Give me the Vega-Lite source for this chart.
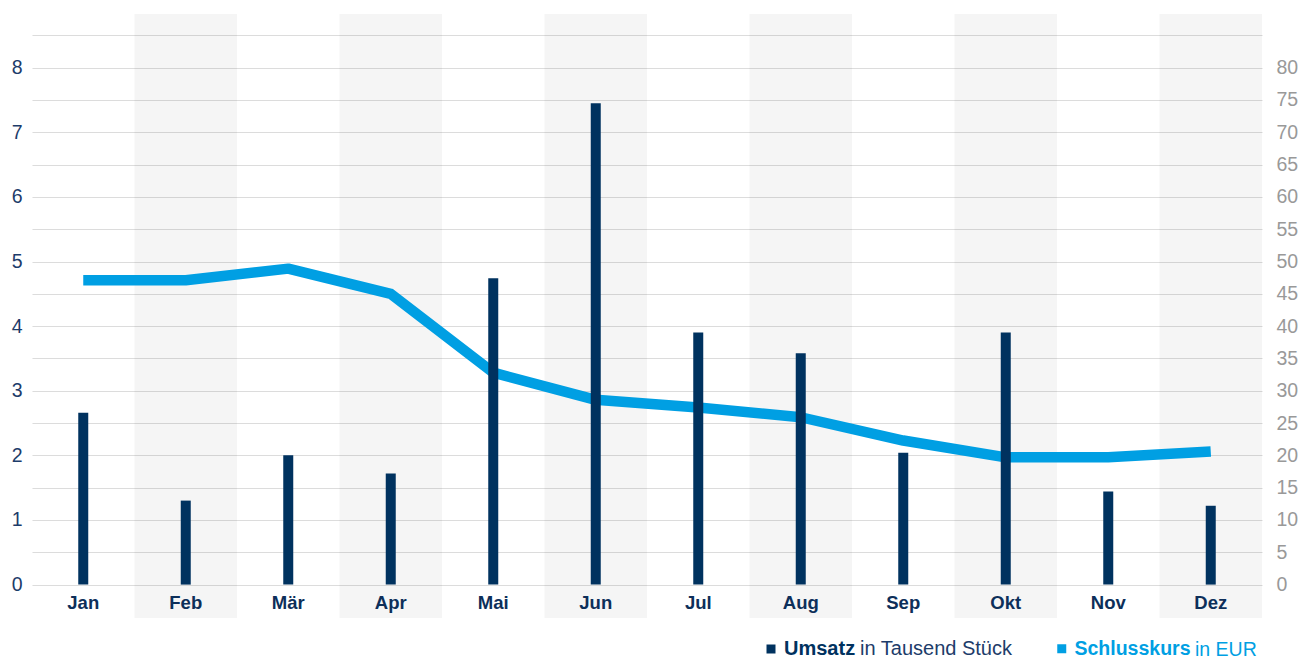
{
  "$schema": "https://vega.github.io/schema/vega-lite/v6.json",
  "width": 1230,
  "height": 604,
  "autosize": {"type": "none"},
  "padding": {"left": 32, "top": 14, "right": 39, "bottom": 42},
  "background": "#ffffff",
  "config": {"view": {"stroke": null}, "font": "Liberation Sans"},
  "data": {
    "values": [
      {"monat": "Jan", "umsatz": 2.66, "kurs": 47.1},
      {"monat": "Feb", "umsatz": 1.30, "kurs": 47.1},
      {"monat": "Mär", "umsatz": 2.00, "kurs": 48.9},
      {"monat": "Apr", "umsatz": 1.72, "kurs": 45.0},
      {"monat": "Mai", "umsatz": 4.74, "kurs": 32.8},
      {"monat": "Jun", "umsatz": 7.45, "kurs": 28.6},
      {"monat": "Jul", "umsatz": 3.90, "kurs": 27.4},
      {"monat": "Aug", "umsatz": 3.58, "kurs": 25.9},
      {"monat": "Sep", "umsatz": 2.04, "kurs": 22.3},
      {"monat": "Okt", "umsatz": 3.90, "kurs": 19.7},
      {"monat": "Nov", "umsatz": 1.44, "kurs": 19.7},
      {"monat": "Dez", "umsatz": 1.22, "kurs": 20.6}
    ]
  },
  "encoding": {
    "x": {
      "field": "monat",
      "type": "ordinal",
      "sort": ["Jan", "Feb", "Mär", "Apr", "Mai", "Jun", "Jul", "Aug", "Sep", "Okt", "Nov", "Dez"],
      "scale": {"paddingInner": 0, "paddingOuter": 0},
      "axis": {
        "title": null,
        "domain": false,
        "ticks": false,
        "grid": false,
        "labelAngle": 0,
        "labelFontWeight": "bold",
        "labelFontSize": 18.5,
        "labelColor": "#0d2f5a",
        "labelBaseline": "middle",
        "labelPadding": -16,
        "zindex": 1
      }
    }
  },
  "layer": [
    {
      "transform": [{"filter": {"field": "monat", "oneOf": ["Feb", "Apr", "Jun", "Aug", "Okt", "Dez"]}}],
      "mark": {"type": "rect", "color": "#000000", "opacity": 0.04}
    },
    {
      "mark": {"type": "line", "strokeWidth": 10.5, "strokeJoin": "round"},
      "encoding": {
        "x": {"field": "monat", "type": "ordinal", "sort": ["Jan", "Feb", "Mär", "Apr", "Mai", "Jun", "Jul", "Aug", "Sep", "Okt", "Nov", "Dez"], "bandPosition": 0.5},
        "y": {
          "field": "kurs",
          "type": "quantitative",
          "scale": {"domain": [-5.17, 88.31], "nice": false, "zero": false},
          "axis": {
            "orient": "right",
            "title": null,
            "values": [0, 5, 10, 15, 20, 25, 30, 35, 40, 45, 50, 55, 60, 65, 70, 75, 80],
            "grid": false,
            "domain": false,
            "ticks": false,
            "labelPadding": 14,
            "labelFontSize": 19.5,
            "labelColor": "#999999"
          }
        },
        "stroke": {
          "datum": "Schlusskurs",
          "scale": {"range": ["#009fe3"]},
          "legend": {
            "orient": "none",
            "legendX": 1020,
            "legendY": 625,
            "padding": 0,
            "symbolType": "square",
            "symbolSize": 16,
            "symbolStrokeWidth": 5,
            "symbolFillColor": "#009fe3",
            "labelFontWeight": "bold",
            "labelFontSize": 19.5,
            "labelColor": "#009fe3",
            "labelOffset": 3,
            "title": "in EUR",
            "titleOrient": "right",
            "titleFontWeight": "normal",
            "titleFontSize": 19.5,
            "titleColor": "#009fe3",
            "titlePadding": 5,
            "titleAnchor": "middle",
            "titleBaseline": "middle"
          }
        }
      }
    },
    {
      "mark": {"type": "bar", "size": 10},
      "encoding": {
        "y": {
          "field": "umsatz",
          "type": "quantitative",
          "scale": {"domain": [-0.517, 8.831], "nice": false, "zero": false},
          "axis": {
            "orient": "left",
            "title": null,
            "values": [0, 0.5, 1, 1.5, 2, 2.5, 3, 3.5, 4, 4.5, 5, 5.5, 6, 6.5, 7, 7.5, 8, 8.5],
            "labelExpr": "datum.value % 1 === 0 && datum.value <= 8 ? format(datum.value, 'd') : ''",
            "grid": true,
            "gridColor": "#dcdcdc",
            "gridWidth": 1.2,
            "domain": false,
            "ticks": false,
            "labelPadding": 10,
            "labelFontSize": 19.5,
            "labelColor": "#1d3c6a"
          }
        },
        "y2": {"datum": 0},
        "fill": {
          "datum": "Umsatz",
          "scale": {"range": ["#00325f"]},
          "legend": {
            "orient": "none",
            "legendX": 729,
            "legendY": 625,
            "padding": 0,
            "symbolType": "square",
            "symbolSize": 81,
            "symbolStrokeWidth": 0,
            "labelFontWeight": "bold",
            "labelFontSize": 20,
            "labelColor": "#00325f",
            "labelOffset": 3,
            "title": "in Tausend Stück",
            "titleOrient": "right",
            "titleFontWeight": "normal",
            "titleFontSize": 20,
            "titleColor": "#1d3c6a",
            "titlePadding": 5,
            "titleAnchor": "middle",
            "titleBaseline": "middle"
          }
        }
      }
    }
  ],
  "resolve": {"scale": {"y": "independent", "fill": "independent", "stroke": "independent"}}
}
